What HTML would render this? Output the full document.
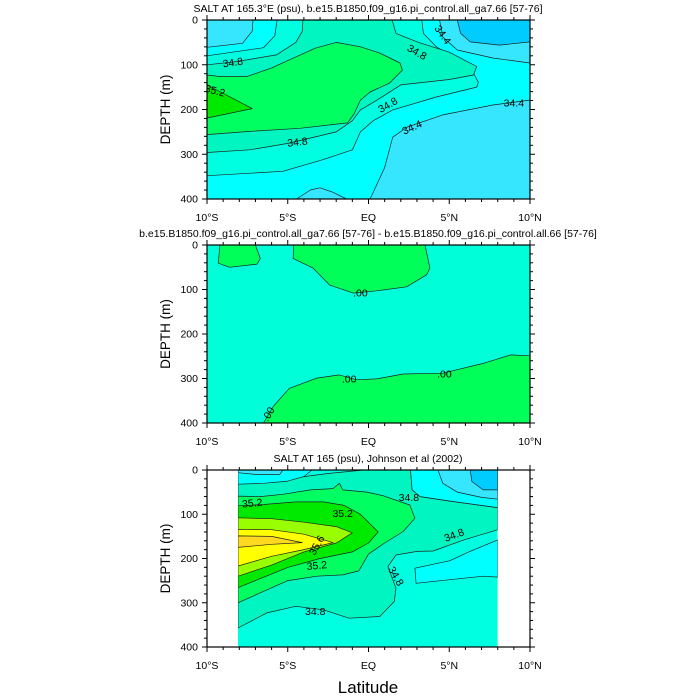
<!DOCTYPE html>
<html><head><meta charset="utf-8">
<style>
html,body{margin:0;padding:0;background:#fff;}
svg{display:block;font-family:"Liberation Sans",sans-serif;}
</style></head>
<body>
<svg id="chart" width="700" height="700" viewBox="0 0 700 700" xmlns="http://www.w3.org/2000/svg">
</svg>
<script>
// ---------- data (lat, depth) contour regions ----------
const latTicks = [-10, -5, 0, 5, 10];
const latTickLabels = ["10°S", "5°S", "EQ", "5°N", "10°N"];
const depthTicks = [0, 100, 200, 300, 400];
const panelTitles = [
  "SALT AT 165.3°E (psu), b.e15.B1850.f09_g16.pi_control.all_ga7.66 [57-76]",
  "b.e15.B1850.f09_g16.pi_control.all_ga7.66 [57-76] - b.e15.B1850.f09_g16.pi_control.all.66 [57-76]",
  "SALT AT 165 (psu), Johnson et al (2002)"
];
// Top panel (model)
const topA1 = [[-5.66,0],[3.3,0],[3.4,30],[4.2,60],[6.3,105],[6.8,139],[6.7,150],[4.2,172],[1.5,201],[0.3,225],[-0.5,250],[-1,290],[-2.8,312],[-5.3,338],[-10,348],[-10,80],[-6.5,62],[-5.8,35]];
const topA2 = [[-4.06,0],[1.46,0],[1.7,30],[3.1,50],[5.0,72],[6.7,104],[6.5,123],[5.0,133],[2.0,145],[0.53,179],[-0.5,201],[-1.0,225],[-2,250],[-4.9,275],[-7.35,290],[-10,296],[-10,100],[-8.2,93],[-5.7,78],[-4.5,50],[-4.1,25]];
const topG1 = [[-10,123],[-9.3,126],[-7.5,126],[-6,107],[-3.3,63],[-2,50],[-0.5,60],[0.7,74],[1.95,96],[2.1,112],[1.3,141],[0.1,161],[-0.5,179],[-0.9,210],[-1.3,230],[-4.25,242],[-7.35,249],[-10,256]];
const topG2 = [[-10,145],[-7.2,198],[-10,219]];
const topLcyCorner = [[-10,0],[-7.15,0],[-7.2,25],[-7.8,52],[-10,61]];
const topLcyUpper = [[4.4,0],[4.6,38],[5.5,67],[7.7,85],[10,96],[10,0]];
const topDeep = [[5.5,0],[5.7,30],[6.3,49],[8.1,56],[10,49],[10,0]];
const topLcyLower = [[0.1,400],[1.0,330],[1.5,262],[2.4,239],[4.6,212],[7.7,190],[10,179],[10,400]];
const topLcyBump = [[-4.46,400],[-3.6,380],[-3.0,375],[-2.2,385],[-1.36,400]];
// Middle panel (difference)
const midBlob1 = [[-9.2,0],[-9.3,41],[-8.6,50],[-6.9,43],[-6.7,30],[-7,0]];
const midBlob2 = [[-4.63,0],[-4.67,30],[-3.43,52],[-2.4,90],[-0.95,108],[0.5,103],[2.36,94],[3.6,67],[3.8,52],[3.5,0]];
const midLower = [[-6.5,400],[-5.9,363],[-4.9,322],[-3.2,299],[-1.8,292],[-0.75,303],[0.5,301],[2.15,290],[4.6,288],[7.1,266],[8.8,247],[10,249],[10,400]];
// Bottom panel (observations)
const obsRange = [-8.08, 8.0];
const botA2 = [[-8.08,22],[-6,25],[-4,15],[-2.5,8],[-0.3,0],[2.6,0],[2.7,45],[3.2,60],[5,70],[8,85],[8,135],[5.9,158],[4.0,183],[3.0,184],[1.7,192],[1.2,218],[1.7,267],[1.6,297],[0.7,331],[-1.2,335],[-2.8,316],[-4.5,308],[-6.3,323],[-8.08,357]];
const botCyTR = [[2.6,0],[2.7,45],[3.2,60],[5,70],[8,85],[8,0]];
const botLcyTR = [[4.3,0],[4.6,30],[5.5,50],[7,62],[8,66],[8,0]];
const botDeepTR = [[6.3,0],[6.4,26],[7.1,45],[8,45],[8,0]];
const botCyR = [[2.87,222],[5.04,205],[6.28,184],[8,158],[8,242],[7.1,240],[5.04,248],[2.95,256]];
const botCyTL = [[-8.08,0],[-8.08,32],[-6.5,30],[-5,25],[-4,15],[-3.5,0]];
const botLcyTL = [[-8.08,0],[-8.08,6],[-7,10],[-5.5,10],[-5.3,0]];
const botG1 = [[-8.08,59],[-6.7,60],[-5.3,55],[-3.6,45],[-2.2,42],[-1.8,30],[-1.6,45],[-0.1,50],[0.9,58],[2.56,79],[2.87,109],[2.15,139],[1.0,165],[0.0,190],[-0.6,228],[-1.6,237],[-3.2,240],[-5,250],[-8.08,300]];
const botG2 = [[-8.08,81],[-6.5,78],[-4.5,72],[-2.8,72],[-1.5,80],[-0.5,100],[0.6,140],[0,165],[-1,185],[-3,200],[-5,220],[-8.08,266]];
const botYG = [[-8.08,108],[-6,110],[-4,118],[-2,128],[-1,142],[-2,165],[-4,185],[-6,215],[-8.08,240]];
const botY = [[-8.08,134],[-6,135],[-4,145],[-2.2,164],[-4,180],[-6,195],[-8.08,217]];
const botGold = [[-8.08,149],[-6,150],[-4.1,164],[-6,168],[-8.08,175]];
// contour labels [lat, depth, text, angle]
const topLabels = [[-8.4,95,"34.8",-8],[-9.5,158,"35.2",15],[-4.4,273,"34.8",-6],[3.0,72,"34.8",30],[4.6,33,"34.4",55],[1.2,190,"34.8",-30],[2.7,240,"34.4",-25],[9.0,185,"34.4",0]];
const midLabels = [[-0.5,108,".00",0],[-1.2,301,".00",0],[4.7,290,".00",0],[-6.2,380,".00",-60]];
const botLabels = [[-7.2,75,"35.2",-5],[-1.6,98,"35.2",0],[-3.2,170,"35.6",-60],[-3.2,216,"35.2",-5],[2.5,62,"34.8",0],[5.3,147,"34.8",-20],[1.7,240,"34.8",60],[-3.3,320,"34.8",0]];

// ---------- layout ----------
const X0 = 207, X1 = 530;
const panels = [{y0:20,y1:199},{y0:245,y1:423},{y0:470,y1:647}];
const C = {deep:"#00ccff", lcy:"#36e6ff", cy:"#00ffff", a1:"#00ffe0", a2:"#00f5c0", g1:"#00ff60", g2:"#00ea00", yg:"#99ff00", y:"#ffff00", gold:"#ffd820"};
const NS = "http://www.w3.org/2000/svg";
const svg = document.getElementById("chart");
function xS(lat){ return X0 + (lat + 10) / 20 * (X1 - X0); }
function yS(p, d){ return p.y0 + d / 400 * (p.y1 - p.y0); }
function mk(tag, attrs, parent){
  const e = document.createElementNS(NS, tag);
  for (const k in attrs) e.setAttribute(k, attrs[k]);
  (parent || svg).appendChild(e);
  return e;
}
function poly(p, pts, fill, name, g){
  const s = pts.map(q => xS(q[0]).toFixed(1) + "," + yS(p, q[1]).toFixed(1)).join(" ");
  const e = mk("polygon", {points:s, fill:fill, stroke:"#222", "stroke-width":"0.7", "stroke-linejoin":"round"}, g);
  
  
}
function labels(p, arr, g, pname){
  arr.forEach(l => {
    const x = xS(l[0]), y = yS(p, l[1]);
    const t = mk("text", {x:x, y:y+3.5, "font-size":"10.5", "text-anchor":"middle", fill:"#000", transform:"rotate(" + l[3] + " " + x + " " + y + ")"}, g);
    t.textContent = l[2];
    
    
  });
}
function axes(p, idx){
  const g = mk("g", {});
  
  
  mk("rect", {x:X0, y:p.y0, width:X1-X0, height:p.y1-p.y0, fill:"none", stroke:"#000", "stroke-width":"1.2"}, g);
  for (let lat = -10; lat <= 10; lat++) {
    const major = lat % 5 === 0, L = major ? 5 : 3, x = xS(lat);
    mk("line", {x1:x, x2:x, y1:p.y1, y2:p.y1+L, stroke:"#000", "stroke-width":"1"}, g);
    mk("line", {x1:x, x2:x, y1:p.y0, y2:p.y0-L, stroke:"#000", "stroke-width":"1"}, g);
  }
  for (let d = 0; d <= 400; d += 20) {
    const major = d % 100 === 0, L = major ? 5 : 3, y = yS(p, d);
    mk("line", {x1:X0, x2:X0-L, y1:y, y2:y, stroke:"#000", "stroke-width":"1"}, g);
    mk("line", {x1:X1, x2:X1+L, y1:y, y2:y, stroke:"#000", "stroke-width":"1"}, g);
  }
  latTicks.forEach((lat, i) => {
    const t = mk("text", {x:xS(lat), y:p.y1+22, "font-size":"10.5", "text-anchor":"middle"}, g);
    t.textContent = latTickLabels[i];
    
    
  });
  depthTicks.forEach(d => {
    const t = mk("text", {x:X0-9, y:yS(p, d)+3.5, "font-size":"10.5", "text-anchor":"end"}, g);
    t.textContent = d;
    
    
  });
  const yc = (p.y0 + p.y1) / 2;
  const yt = mk("text", {x:170, y:yc, "font-size":"13.5", "text-anchor":"middle", transform:"rotate(-90 170 " + yc + ")"}, g);
  yt.textContent = "DEPTH (m)";
  
  
  const tt = mk("text", {x:368, y:p.y0-8, "font-size":"10.5", "text-anchor":"middle"}, g);
  tt.textContent = panelTitles[idx];
  
  
}
const defs = mk("defs", {});
panels.forEach((p, i) => {
  const cp = mk("clipPath", {id:"clip" + i}, defs);
  mk("rect", {x:X0, y:p.y0, width:X1-X0, height:p.y1-p.y0}, cp);
});
// Top panel
(function(){
  const p = panels[0];
  const g = mk("g", {"clip-path":"url(#clip0)"});
  
  
  mk("rect", {x:X0, y:p.y0, width:X1-X0, height:p.y1-p.y0, fill:C.cy}, g);
  poly(p, topA1, C.a1, "contour-34-6", g);
  poly(p, topA2, C.a2, "contour-34-8", g);
  poly(p, topG1, C.g1, "contour-35-0", g);
  poly(p, topG2, C.g2, "contour-35-2", g);
  poly(p, topLcyCorner, C.lcy, "contour-34-4-corner", g);
  poly(p, topLcyUpper, C.lcy, "contour-34-4-upper", g);
  poly(p, topDeep, C.deep, "contour-34-2", g);
  poly(p, topLcyLower, C.lcy, "contour-34-4-lower", g);
  poly(p, topLcyBump, C.lcy, "contour-34-4-bump", g);
  labels(p, topLabels, g, "model");
  axes(p, 0);
})();
// Middle panel
(function(){
  const p = panels[1];
  const g = mk("g", {"clip-path":"url(#clip1)"});
  
  
  mk("rect", {x:X0, y:p.y0, width:X1-X0, height:p.y1-p.y0, fill:"#00ffd8"}, g);
  poly(p, midBlob1, "#00ff58", "positive-blob-west", g);
  poly(p, midBlob2, "#00ff58", "positive-blob-center", g);
  poly(p, midLower, "#00ff58", "positive-region-deep", g);
  labels(p, midLabels, g, "difference");
  axes(p, 1);
})();
// Bottom panel
(function(){
  const p = panels[2];
  const g = mk("g", {"clip-path":"url(#clip2)"});
  
  
  const cp = mk("clipPath", {id:"clipObs"}, defs);
  mk("rect", {x:xS(obsRange[0]), y:p.y0, width:xS(obsRange[1])-xS(obsRange[0]), height:p.y1-p.y0}, cp);
  const gi = mk("g", {"clip-path":"url(#clipObs)"}, g);
  mk("rect", {x:xS(obsRange[0]), y:p.y0, width:xS(obsRange[1])-xS(obsRange[0]), height:p.y1-p.y0, fill:C.a1}, gi);
  poly(p, botA2, C.a2, "contour-34-8", gi);
  poly(p, botCyTR, C.cy, "contour-34-6-ne", gi);
  poly(p, botLcyTR, C.lcy, "contour-34-4-ne", gi);
  poly(p, botDeepTR, C.deep, "contour-34-2-ne", gi);
  poly(p, botCyR, C.cy, "contour-34-6-east", gi);
  poly(p, botCyTL, C.cy, "contour-34-6-nw", gi);
  poly(p, botLcyTL, C.lcy, "contour-34-4-nw", gi);
  poly(p, botG1, C.g1, "contour-35-0", gi);
  poly(p, botG2, C.g2, "contour-35-2", gi);
  poly(p, botYG, C.yg, "contour-35-4", gi);
  poly(p, botY, C.y, "contour-35-6", gi);
  poly(p, botGold, C.gold, "contour-35-8", gi);
  labels(p, botLabels, gi, "observed");
  axes(p, 2);
})();
const xt = mk("text", {x:368, y:693, "font-size":"17", "text-anchor":"middle"});
xt.textContent = "Latitude";


</script>
</body></html>
